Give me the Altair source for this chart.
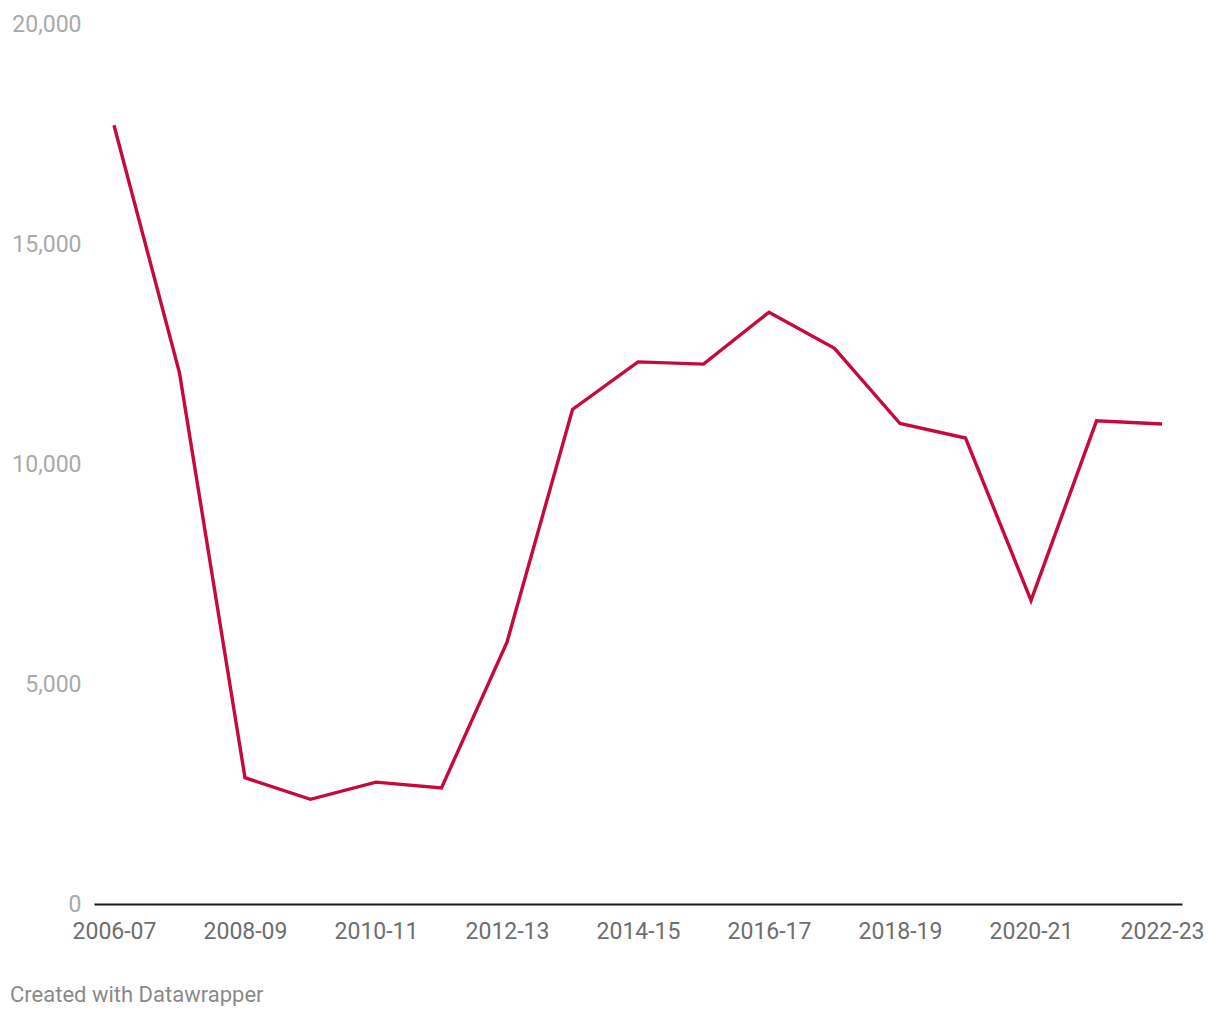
import altair as alt
import pandas as pd

years = ["2006-07", "2007-08", "2008-09", "2009-10", "2010-11", "2011-12",
         "2012-13", "2013-14", "2014-15", "2015-16", "2016-17", "2017-18",
         "2018-19", "2019-20", "2020-21", "2021-22", "2022-23"]
values = [17700, 12070, 2870, 2380, 2770, 2640, 5950, 11240, 12320, 12270,
          13450, 12630, 10920, 10590, 6900, 10980, 10910]
label_years = years[::2]
y_ticks = [0, 5000, 10000, 15000, 20000]

df = pd.DataFrame({"year": years, "value": values})

chart = alt.Chart(df).mark_line(color="#c60b3c", strokeWidth=3.4).encode(
    x=alt.X("year:O", sort=years,
            scale=alt.Scale(type="point", padding=0.305),
            axis=alt.Axis(title=None, values=label_years, labelAngle=0,
                          labelFontSize=23, labelColor="#6e6e6e",
                          labelFont="Roboto", ticks=False, domainColor="#1a1a1a",
                          domainWidth=2.2, labelPadding=16, grid=False)),
    y=alt.Y("value:Q", scale=alt.Scale(domain=[0, 20000]),
            axis=alt.Axis(title=None, values=y_ticks,
                          format=",.0f", labelFontSize=23, labelColor="#a9a9a9",
                          labelFont="Roboto", ticks=False, domain=False,
                          grid=False, labelPadding=13, minExtent=84, maxExtent=84)),
).properties(
    width=1088,
    height=880,
    padding={"left": 2, "top": 5, "right": 0, "bottom": 0},
    title=alt.TitleParams("Created with Datawrapper", orient="bottom", anchor="start",
                          frame="bounds", fontSize=22, font="Roboto",
                          fontWeight="normal", color="#8a8a8a", offset=42),
).configure_view(stroke=None)

chart.save("out.html", embed_options={"renderer": "svg", "actions": False})
